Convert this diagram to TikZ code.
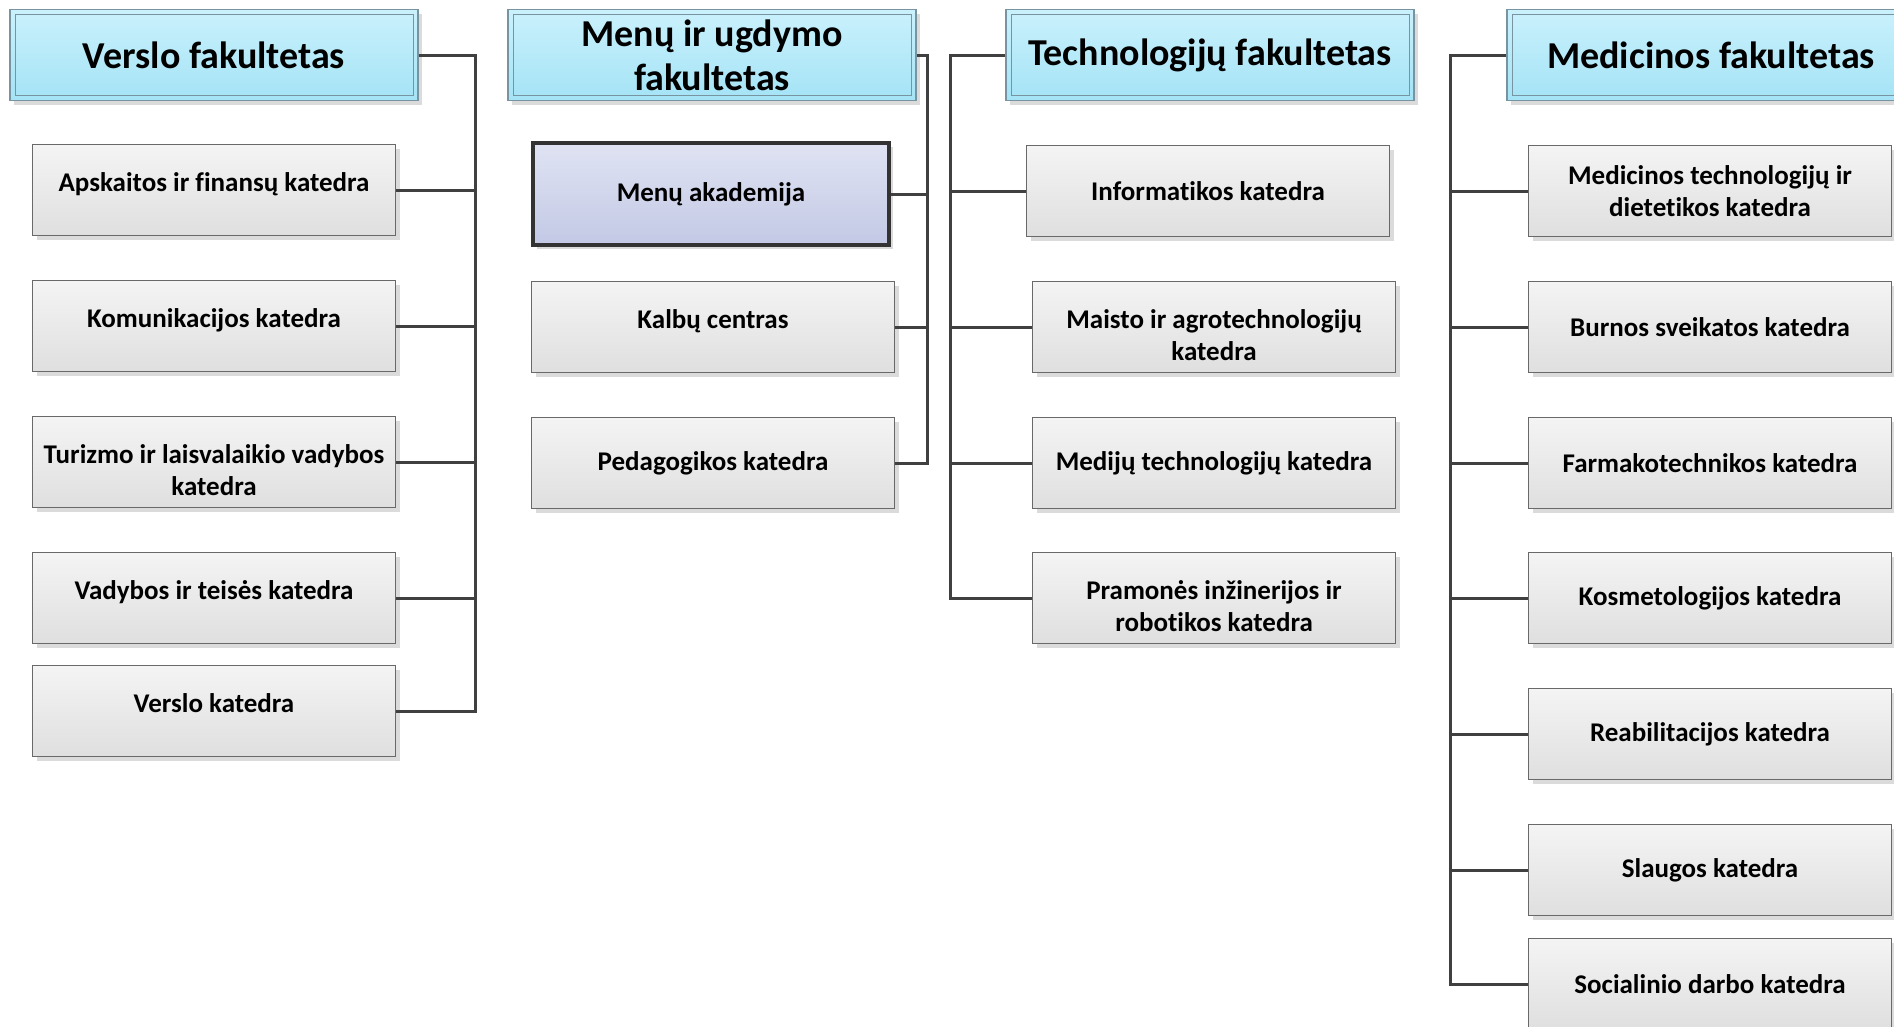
\documentclass[tikz,border=0pt]{standalone}
\usepackage{fontspec}
\setmainfont{Carlito}[Ligatures=NoCommon]
\usetikzlibrary{shadows}

\definecolor{headtop}{RGB}{202,241,252}
\definecolor{headbot}{RGB}{164,227,246}
\definecolor{headline}{RGB}{120,148,160}
\definecolor{boxtop}{RGB}{244,244,244}
\definecolor{boxbot}{RGB}{223,223,223}
\definecolor{boxline}{RGB}{105,105,105}
\definecolor{acadtop}{RGB}{223,227,243}
\definecolor{acadbot}{RGB}{195,201,229}
\definecolor{wirecol}{RGB}{64,64,64}

\tikzstyle{softshadow}=[drop shadow={shadow xshift=4pt, shadow yshift=-4pt, fill=black!14, opacity=1}]
\tikzstyle{faculty}=[draw=headline, line width=1.2pt, top color=headtop, bottom color=headbot,
    minimum width=408pt, minimum height=91pt, inner sep=0pt, align=center,
    font=\fontsize{38}{44}\selectfont\bfseries, softshadow,
    path picture={\draw[headline, line width=1pt]
        ([shift={(5pt,-5pt)}]path picture bounding box.north west) rectangle
        ([shift={(-5pt,5pt)}]path picture bounding box.south east);}]
\tikzstyle{dept}=[draw=boxline, line width=1.2pt, top color=boxtop, bottom color=boxbot,
    minimum width=363pt, minimum height=91pt, inner sep=0pt, align=center,
    font=\fontsize{27}{32}\selectfont\bfseries, softshadow]
\tikzstyle{academy}=[dept, draw=black!80, line width=3.5pt, top color=acadtop, bottom color=acadbot,
    minimum width=356pt, minimum height=102pt]
\tikzstyle{textup}=[text height=20pt, text depth=18pt]
\tikzset{textdown/.style={text height=#1}}
\tikzstyle{link}=[draw=wirecol, line width=3pt]

\begin{document}
\begin{tikzpicture}[x=1pt, y=-1pt]
\useasboundingbox (0,0) rectangle (1894,1026);
\clip (0,0) rectangle (1894,1026);
% Faculties
    \node[faculty] (hVerslo) at (214,55) {Verslo fakultetas};
    \node[faculty] (hMenu) at (712,55) {Menų ir ugdymo\\fakultetas};
    \node[faculty] (hTech) at (1210,55) {Technologijų fakultetas};
    \node[faculty] (hMed) at (1711,55) {Medicinos fakultetas};
% Verslo fakultetas
    \node[dept, textup] (dV1) at (214,190) {Apskaitos ir finansų katedra};
    \node[dept, textup] (dV2) at (214,326) {Komunikacijos katedra};
    \node[dept, textdown=68pt] (dV3) at (214,462) {Turizmo ir laisvalaikio vadybos\\katedra};
    \node[dept, textup] (dV4) at (214,598) {Vadybos ir teisės katedra};
    \node[dept, textup] (dV5) at (214,711) {Verslo katedra};
% Menu ir ugdymo fakultetas
    \node[academy] (dM1) at (711,194) {Menų akademija};
    \node[dept, textup] (dM2) at (713,327) {Kalbų centras};
    \node[dept] (dM3) at (713,463) {Pedagogikos katedra};
% Technologiju fakultetas
    \node[dept] (dT1) at (1208,191) {Informatikos katedra};
    \node[dept, textdown=67pt] (dT2) at (1214,327) {Maisto ir agrotechnologijų\\katedra};
    \node[dept] (dT3) at (1214,463) {Medijų technologijų katedra};
    \node[dept, textdown=68pt] (dT4) at (1214,598) {Pramonės inžinerijos ir\\robotikos katedra};
% Medicinos fakultetas
    \node[dept] (dD1) at (1710,191) {Medicinos technologijų ir\\dietetikos katedra};
    \node[dept] (dD2) at (1710,327) {Burnos sveikatos katedra};
    \node[dept] (dD3) at (1710,463) {Farmakotechnikos katedra};
    \node[dept] (dD4) at (1710,598) {Kosmetologijos katedra};
    \node[dept] (dD5) at (1710,734) {Reabilitacijos katedra};
    \node[dept] (dD6) at (1710,870) {Slaugos katedra};
    \node[dept] (dD7) at (1710,984) {Socialinio darbo katedra};
% Buses
    \coordinate (busV) at (475,0);
    \coordinate (busM) at (927,0);
    \coordinate (busT) at (950,0);
    \coordinate (busD) at (1450,0);
% Links
    \draw[link] (hVerslo.east) -| (busV |- dV5.east) -- (dV5.east);
    \draw[link] (dV1.east) -- (busV |- dV1.east);
    \draw[link] (dV2.east) -- (busV |- dV2.east);
    \draw[link] (dV3.east) -- (busV |- dV3.east);
    \draw[link] (dV4.east) -- (busV |- dV4.east);
    \draw[link] (hMenu.east) -| (busM |- dM3.east) -- (dM3.east);
    \draw[link] (dM1.east) -- (busM |- dM1.east);
    \draw[link] (dM2.east) -- (busM |- dM2.east);
    \draw[link] (hTech.west) -| (busT |- dT4.west) -- (dT4.west);
    \draw[link] (dT1.west) -- (busT |- dT1.west);
    \draw[link] (dT2.west) -- (busT |- dT2.west);
    \draw[link] (dT3.west) -- (busT |- dT3.west);
    \draw[link] (hMed.west) -| (busD |- dD7.west) -- (dD7.west);
    \draw[link] (dD1.west) -- (busD |- dD1.west);
    \draw[link] (dD2.west) -- (busD |- dD2.west);
    \draw[link] (dD3.west) -- (busD |- dD3.west);
    \draw[link] (dD4.west) -- (busD |- dD4.west);
    \draw[link] (dD5.west) -- (busD |- dD5.west);
    \draw[link] (dD6.west) -- (busD |- dD6.west);
\end{tikzpicture}
\end{document}
